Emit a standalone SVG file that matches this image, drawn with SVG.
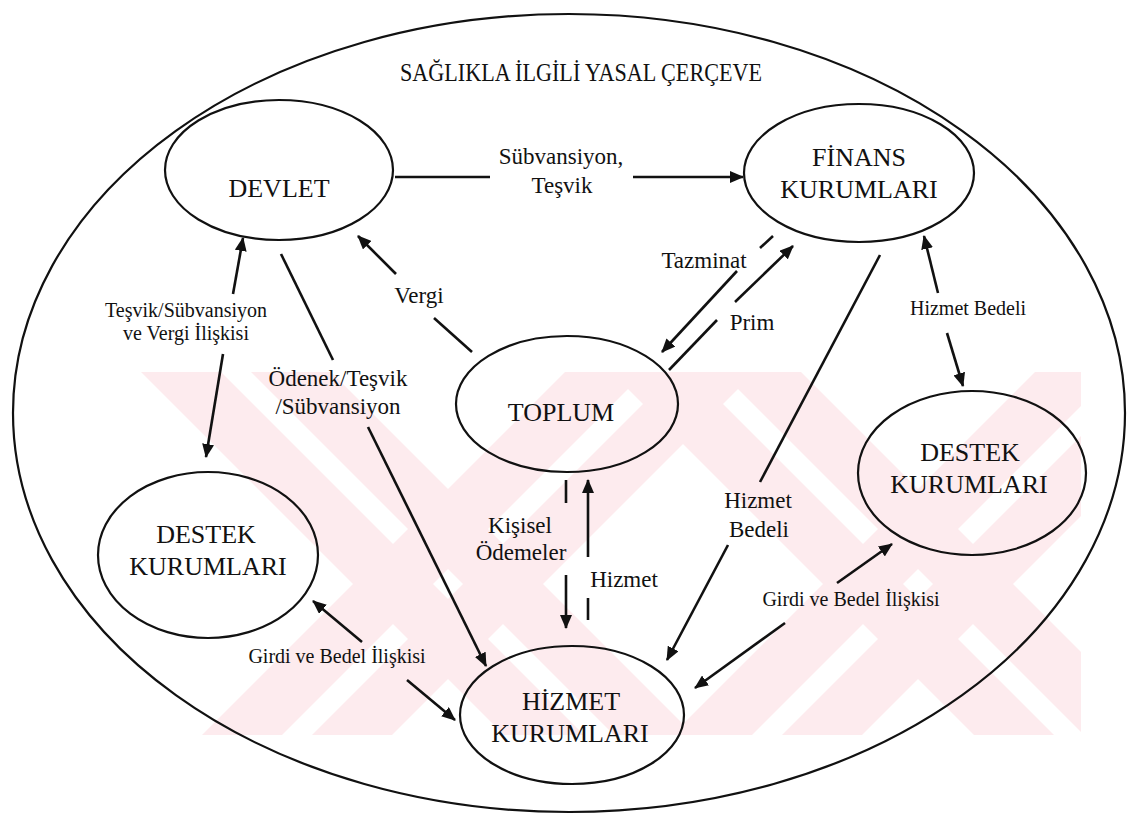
<svg xmlns="http://www.w3.org/2000/svg" width="1135" height="817" viewBox="0 0 1135 817">
<style>
.node{fill:none;stroke:#111;stroke-width:2.2}
.nt{font-family:"Liberation Serif","Times New Roman",serif;font-size:26px;fill:#111;text-anchor:middle}
.lb{font-family:"Liberation Serif","Times New Roman",serif;font-size:23px;fill:#111;text-anchor:middle}
.sm{font-size:20px}
.cn line{stroke:#111;stroke-width:2.6;fill:none}
.wm{fill:#fdebee}
</style>
<defs>
<marker id="ah" markerUnits="userSpaceOnUse" markerWidth="14" markerHeight="12" refX="13" refY="6" orient="auto">
<path d="M0,0 L14,6 L0,12 Z" fill="#111"/>
</marker>
<clipPath id="wmclip"><rect x="141" y="372" width="940" height="363"/></clipPath>
</defs>
<rect width="1135" height="817" fill="#fff"/>
<g id="watermark" clip-path="url(#wmclip)">
<polygon class="wm" points="141,372 221,372 584,735 504,735"/>
<polygon class="wm" points="251,372 331,372 694,735 614,735"/>
<polygon class="wm" points="565,372 645,372 282,735 202,735"/>
<polygon class="wm" points="675,372 755,372 392,735 312,735"/>
<polygon class="wm" points="611,372 691,372 1054,735 974,735"/>
<polygon class="wm" points="721,372 801,372 1164,735 1084,735"/>
<polygon class="wm" points="1035,372 1115,372 752,735 672,735"/>
<polygon class="wm" points="1145,372 1225,372 862,735 782,735"/>
</g>
<ellipse id="frame" cx="569" cy="413" rx="556" ry="399" class="node"/>
<text id="title" x="581" y="81" class="nt" font-size="24" textLength="362" lengthAdjust="spacingAndGlyphs">SAĞLIKLA İLGİLİ YASAL ÇERÇEVE</text>
<g class="cn" id="connectors">
<line x1="395" y1="177" x2="490" y2="177"/>
<line x1="633" y1="177" x2="743" y2="177" marker-end="url(#ah)"/>
<line x1="396" y1="274" x2="358" y2="236" marker-end="url(#ah)"/>
<line x1="434" y1="318" x2="472" y2="352"/>
<line x1="233" y1="294" x2="243" y2="238" marker-end="url(#ah)"/>
<line x1="223" y1="354" x2="206" y2="457" marker-end="url(#ah)"/>
<line x1="281" y1="254" x2="333" y2="360"/>
<line x1="368" y1="427" x2="486" y2="666" marker-end="url(#ah)"/>
<line x1="773" y1="236" x2="760" y2="248"/>
<line x1="737" y1="271" x2="662" y2="352" marker-end="url(#ah)"/>
<line x1="669" y1="370" x2="717" y2="320"/>
<line x1="735" y1="302" x2="793" y2="246" marker-end="url(#ah)"/>
<line x1="880" y1="255" x2="760" y2="482"/>
<line x1="728" y1="545" x2="667" y2="660" marker-end="url(#ah)"/>
<line x1="938" y1="293" x2="924" y2="236" marker-end="url(#ah)"/>
<line x1="947" y1="333" x2="963" y2="386" marker-end="url(#ah)"/>
<line x1="566" y1="480" x2="566" y2="503"/>
<line x1="566" y1="575" x2="566" y2="628" marker-end="url(#ah)"/>
<line x1="588" y1="557" x2="588" y2="480" marker-end="url(#ah)"/>
<line x1="588" y1="598" x2="588" y2="620"/>
<line x1="362" y1="642" x2="313" y2="601" marker-end="url(#ah)"/>
<line x1="407" y1="680" x2="455" y2="720" marker-end="url(#ah)"/>
<line x1="837" y1="583" x2="892" y2="544" marker-end="url(#ah)"/>
<line x1="785" y1="623" x2="695" y2="688" marker-end="url(#ah)"/>
</g>
<g id="labels">
<text class="lb" x="561" y="164">Sübvansiyon,</text>
<text class="lb" x="562" y="193">Teşvik</text>
<text class="lb" x="419" y="303" font-size="24">Vergi</text>
<text class="lb" x="704" y="268">Tazminat</text>
<text class="lb" x="752" y="330" font-size="24">Prim</text>
<text class="lb sm" x="186" y="317">Teşvik/Sübvansiyon</text>
<text class="lb sm" x="186" y="340">ve Vergi İlişkisi</text>
<text class="lb" x="338" y="386">Ödenek/Teşvik</text>
<text class="lb" x="338" y="414">/Sübvansiyon</text>
<text class="lb" x="520" y="533">Kişisel</text>
<text class="lb" x="521" y="560">Ödemeler</text>
<text class="lb" x="624" y="587">Hizmet</text>
<text class="lb" x="758" y="508">Hizmet</text>
<text class="lb" x="759" y="537">Bedeli</text>
<text class="lb sm" x="968" y="315">Hizmet Bedeli</text>
<text class="lb sm" x="337" y="663">Girdi ve Bedel İlişkisi</text>
<text class="lb sm" x="851" y="606">Girdi ve Bedel İlişkisi</text>
</g>
<g id="devlet">
<ellipse cx="279" cy="170" rx="114" ry="70" class="node"/>
<text class="nt" x="279" y="197">DEVLET</text>
</g>
<g id="finans">
<ellipse cx="859" cy="173" rx="115" ry="69" class="node"/>
<text class="nt" x="859" y="166">FİNANS</text>
<text class="nt" x="859" y="198">KURUMLARI</text>
</g>
<g id="toplum">
<ellipse cx="567" cy="404" rx="111" ry="68" class="node"/>
<text class="nt" x="561" y="421">TOPLUM</text>
</g>
<g id="destek-sol">
<ellipse cx="208" cy="555" rx="110" ry="83" class="node"/>
<text class="nt" x="206" y="543">DESTEK</text>
<text class="nt" x="208" y="575">KURUMLARI</text>
</g>
<g id="destek-sag">
<ellipse cx="972" cy="473" rx="114" ry="82" class="node"/>
<text class="nt" x="970" y="461">DESTEK</text>
<text class="nt" x="969" y="493">KURUMLARI</text>
</g>
<g id="hizmet">
<ellipse cx="572" cy="715" rx="112" ry="69" class="node"/>
<text class="nt" x="571" y="710">HİZMET</text>
<text class="nt" x="570" y="742">KURUMLARI</text>
</g>
</svg>
